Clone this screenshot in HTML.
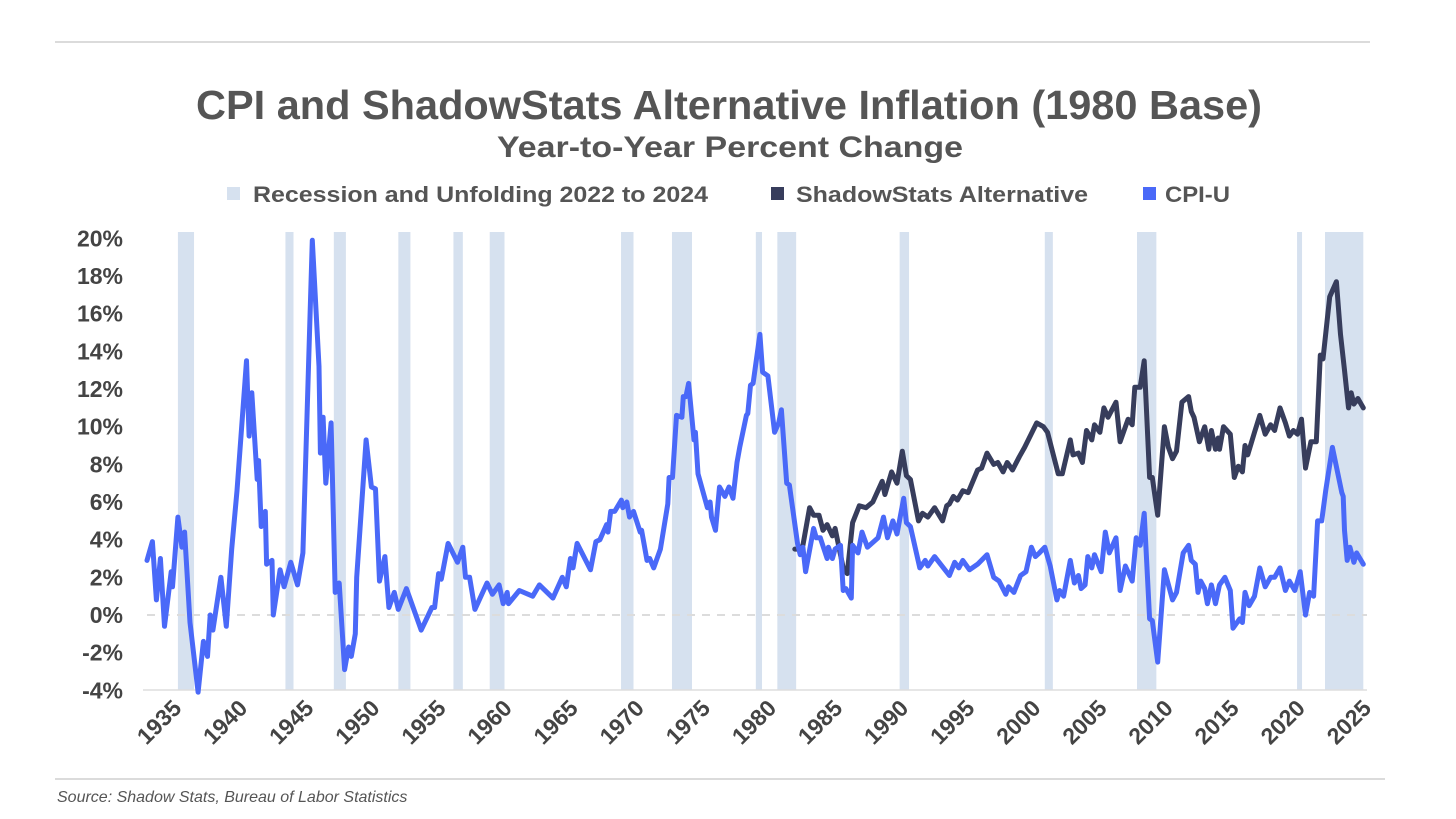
<!DOCTYPE html>
<html><head><meta charset="utf-8"><style>
body{margin:0;background:#fff;width:1456px;height:819px;overflow:hidden;font-family:"Liberation Sans",sans-serif;}
svg{display:block}
text{font-family:"Liberation Sans",sans-serif;font-weight:bold;}
</style></head><body>
<svg id="chart" width="1456" height="819" viewBox="0 0 1456 819">
<line x1="55" y1="42" x2="1370" y2="42" stroke="#cfcfcf" stroke-width="1.5"/>
<text x="196" y="119" textLength="1066" lengthAdjust="spacingAndGlyphs" font-size="41" fill="#555">CPI and ShadowStats Alternative Inflation (1980 Base)</text>
<text x="497" y="157" textLength="466" lengthAdjust="spacingAndGlyphs" font-size="30" fill="#555">Year-to-Year Percent Change</text>
<g>
<g><rect x="227" y="187" width="13" height="13" fill="#d6e1ef"/><text x="253" y="202" textLength="455" lengthAdjust="spacingAndGlyphs" font-size="22" fill="#555">Recession and Unfolding 2022 to 2024</text></g>
<g><rect x="771" y="187" width="13" height="13" fill="#373d5c"/><text x="796" y="202" textLength="292" lengthAdjust="spacingAndGlyphs" font-size="22" fill="#555">ShadowStats Alternative</text></g>
<g><rect x="1143" y="187" width="13" height="13" fill="#4a69f8"/><text x="1165" y="202" textLength="65" lengthAdjust="spacingAndGlyphs" font-size="22" fill="#555">CPI-U</text></g>
</g>
<g id="bands"></g>
<g id="yaxis"></g>
<g id="xaxis"></g>
<g id="series"></g>
<line x1="55" y1="779" x2="1385" y2="779" stroke="#cfcfcf" stroke-width="1.5"/>
<text x="57" y="802" font-size="16" font-style="italic" fill="#555" style="font-weight:normal">Source: Shadow Stats, Bureau of Labor Statistics</text>
</svg>
<script>
const yTicks=[20,18,16,14,12,10,8,6,4,2,0,-2,-4];
const xTickYears=[1935,1940,1945,1950,1955,1960,1965,1970,1975,1980,1985,1990,1995,2000,2005,2010,2015,2020,2025];
const recessionStarts=[1937.3,1945.3,1948.9,1953.7,1957.8,1960.5,1970.27,1974.06,1980.3,1981.9,1991.0,2001.8,2008.66,2020.57,2022.65];
const recessionEnds=[1938.5,1945.9,1949.8,1954.6,1958.5,1961.6,1971.2,1975.55,1980.76,1983.3,1991.7,2002.4,2010.1,2020.94,2025.5];
const cpiYears=[1935.0,1935.4,1935.7,1936.0,1936.3,1936.8,1936.9,1937.3,1937.6,1937.8,1938.2,1938.8,1939.2,1939.5,1939.7,1939.9,1940.5,1940.9,1941.3,1941.7,1942.4,1942.6,1942.8,1943.2,1943.3,1943.5,1943.8,1943.9,1944.3,1944.4,1944.9,1945.2,1945.7,1946.2,1946.6,1947.3,1947.8,1947.9,1948.1,1948.3,1948.7,1949.0,1949.3,1949.7,1950.0,1950.2,1950.5,1950.6,1951.3,1951.7,1952.0,1952.3,1952.7,1953.0,1953.4,1953.7,1954.3,1955.4,1956.2,1956.4,1956.7,1956.9,1957.4,1958.1,1958.5,1958.7,1959.0,1959.4,1960.3,1960.7,1961.2,1961.5,1961.8,1961.9,1962.7,1963.7,1964.2,1965.2,1965.9,1966.2,1966.5,1966.7,1967.0,1968.0,1968.4,1968.7,1969.2,1969.3,1969.5,1969.8,1970.3,1970.4,1970.7,1970.9,1971.2,1971.7,1971.8,1972.2,1972.4,1972.7,1973.2,1973.75,1973.85,1974.1,1974.4,1974.8,1974.9,1975.1,1975.3,1975.7,1975.8,1976.0,1976.7,1976.9,1977.0,1977.3,1977.6,1978.0,1978.3,1978.6,1978.9,1979.1,1979.6,1979.7,1979.9,1980.1,1980.6,1980.8,1981.2,1981.7,1982.0,1982.2,1982.6,1982.8,1983.4,1983.6,1983.8,1984.0,1984.6,1984.8,1985.1,1985.6,1985.7,1986.0,1986.2,1986.6,1986.8,1987.0,1987.4,1987.5,1987.9,1988.2,1988.6,1989.4,1989.8,1990.1,1990.5,1990.8,1991.3,1991.5,1991.8,1992.5,1992.9,1993.1,1993.6,1994.7,1995.1,1995.4,1995.7,1996.2,1996.8,1997.5,1998.0,1998.4,1998.9,1999.1,1999.5,2000.0,2000.4,2000.8,2001.1,2001.4,2001.8,2002.2,2002.7,2002.9,2003.2,2003.7,2004.0,2004.3,2004.5,2004.8,2005.0,2005.3,2005.5,2006.0,2006.3,2006.6,2007.1,2007.4,2007.8,2008.3,2008.6,2008.9,2009.2,2009.6,2009.8,2010.2,2010.7,2011.3,2011.6,2012.1,2012.5,2012.7,2013.0,2013.2,2013.4,2013.7,2013.9,2014.2,2014.5,2014.8,2015.2,2015.6,2015.8,2016.3,2016.5,2016.7,2017.0,2017.4,2017.8,2018.2,2018.6,2018.9,2019.3,2019.7,2020.0,2020.4,2020.8,2021.2,2021.5,2021.8,2022.1,2022.4,2022.7,2023.2,2023.9,2024.0,2024.1,2024.3,2024.5,2024.8,2025.0,2025.5];
const cpiValues=[2.9,3.9,0.8,3.0,-0.6,2.3,1.5,5.2,3.6,4.4,-0.4,-4.1,-1.4,-2.2,0.0,-0.8,2.0,-0.6,3.5,6.6,13.5,9.5,11.8,7.2,8.2,4.7,5.5,2.7,2.9,0.0,2.4,1.5,2.8,1.6,3.3,19.9,13.2,8.6,10.5,7.0,10.2,1.2,1.7,-2.9,-1.7,-2.2,-1.0,2.0,9.3,6.8,6.7,1.8,3.1,0.4,1.2,0.3,1.4,-0.8,0.4,0.4,2.2,1.9,3.8,2.8,3.6,2.0,2.0,0.3,1.7,1.1,1.6,0.6,1.2,0.6,1.3,1.0,1.6,0.9,2.0,1.5,3.0,2.5,3.8,2.4,3.9,4.0,4.8,4.4,5.5,5.5,6.1,5.7,6.0,5.2,5.5,4.4,4.5,2.9,3.0,2.5,3.5,5.9,7.3,7.3,10.6,10.5,11.6,11.6,12.3,9.3,9.7,7.5,5.7,6.0,5.2,4.5,6.8,6.3,6.8,6.2,8.1,8.9,10.6,10.7,12.2,12.3,14.9,12.9,12.7,9.7,10.2,10.9,7.0,6.9,3.8,3.2,3.6,2.3,4.6,4.1,4.1,3.0,3.6,3.0,3.5,3.7,1.3,1.4,0.9,3.7,3.3,4.4,3.6,4.1,5.2,4.1,5.0,4.3,6.2,4.9,4.7,2.5,2.9,2.6,3.1,2.1,2.8,2.5,2.9,2.4,2.7,3.2,2.0,1.8,1.1,1.5,1.2,2.1,2.3,3.6,3.1,3.3,3.6,2.6,0.8,1.3,1.0,2.9,1.7,2.1,1.4,1.6,3.1,2.5,3.2,2.3,4.4,3.3,4.1,1.3,2.6,1.8,4.1,3.7,5.4,-0.2,-0.3,-2.5,2.4,0.8,1.2,3.3,3.7,2.9,2.7,1.2,1.8,1.4,0.6,1.6,0.6,1.6,2.0,1.3,-0.7,-0.2,-0.4,1.2,0.5,1.0,2.5,1.5,2.0,2.0,2.5,1.3,1.8,1.3,2.3,0.0,1.2,1.0,5.0,5.0,6.6,8.9,6.5,6.3,4.5,2.9,3.6,2.8,3.3,2.7];
const ssYears=[1983.2,1983.6,1983.8,1984.3,1984.6,1985.0,1985.3,1985.6,1986.0,1986.2,1986.4,1986.8,1987.1,1987.5,1988.0,1988.5,1989.0,1989.7,1989.9,1990.4,1990.8,1991.2,1991.5,1991.8,1992.4,1992.7,1993.1,1993.6,1994.2,1994.5,1994.7,1995.0,1995.3,1995.7,1996.1,1996.8,1997.1,1997.5,1998.0,1998.3,1998.7,1999.0,1999.4,1999.9,2000.3,2001.2,2001.7,2002.0,2002.8,2003.1,2003.7,2003.9,2004.3,2004.6,2004.9,2005.3,2005.5,2005.9,2006.2,2006.5,2007.1,2007.4,2007.8,2008.0,2008.3,2008.5,2008.9,2009.2,2009.6,2009.8,2010.2,2010.7,2011.0,2011.3,2011.6,2012.0,2012.5,2012.7,2012.9,2013.3,2013.7,2014.0,2014.2,2014.5,2014.7,2014.8,2015.1,2015.6,2015.9,2016.2,2016.5,2016.7,2016.9,2017.4,2017.8,2018.2,2018.6,2018.9,2019.3,2019.7,2020.0,2020.3,2020.6,2020.9,2021.2,2021.6,2022.0,2022.3,2022.5,2023.0,2023.5,2023.8,2024.1,2024.4,2024.6,2024.8,2025.1,2025.5];
const ssValues=[3.5,3.5,3.7,5.7,5.3,5.3,4.5,4.8,4.2,4.6,3.9,2.5,2.2,4.9,5.8,5.7,6.0,7.1,6.4,7.6,7.0,8.7,7.4,7.2,5.0,5.4,5.2,5.7,5.0,5.8,5.9,6.3,6.1,6.6,6.5,7.7,7.8,8.6,8.0,8.1,7.6,8.1,7.7,8.4,8.9,10.2,10.0,9.7,7.5,7.5,9.3,8.5,8.6,8.1,9.8,9.3,10.1,9.7,11.0,10.5,11.3,9.2,10.0,10.4,10.1,12.1,12.1,13.5,7.3,7.3,5.3,10.0,8.9,8.3,8.7,11.3,11.6,10.8,10.5,9.2,10.0,8.8,9.8,8.8,9.4,8.8,10.0,9.6,7.3,7.9,7.6,9.0,8.5,9.7,10.6,9.6,10.1,9.8,11.0,10.2,9.5,9.8,9.6,10.4,7.8,9.2,9.2,13.8,13.6,16.9,17.7,14.9,13.0,11.0,11.8,11.2,11.5,11.0];

const NS='http://www.w3.org/2000/svg';
const X0=147,PX=13.44,Y0=615,PY=18.83;
function xs(yr){return X0+(yr-1935)*PX;}
function ys(v){return Y0-v*PY;}
function mk(tag,attrs,parent){const e=document.createElementNS(NS,tag);for(const k in attrs)e.setAttribute(k,attrs[k]);parent.appendChild(e);return e;}

const bands=document.getElementById('bands');
recessionStarts.forEach((s,i)=>{
  const r=mk('rect',{x:xs(s),y:232,width:xs(recessionEnds[i])-xs(s),height:458,fill:'#d6e1ef'},bands);
  
  
});
const ya=document.getElementById('yaxis');
yTicks.forEach(v=>{
  const t=mk('text',{x:123,y:ys(v)+8,'text-anchor':'end','font-size':'23',fill:'#444'},ya);
  t.textContent=v+'%';
  
  
});
const zl=mk('line',{x1:147,x2:1367,y1:ys(0),y2:ys(0),stroke:'#dcdcdc','stroke-width':2,'stroke-dasharray':'8 7'},ya);


const xa=document.getElementById('xaxis');
const al=mk('line',{x1:143,x2:1367,y1:690,y2:690,stroke:'#ddd','stroke-width':1.5},xa);


xTickYears.forEach((yr,i)=>{
  const cx=159+(yr-1935)*13.22, cy=722;
  const t=mk('text',{x:cx,y:cy+8,'text-anchor':'middle','font-size':'23',fill:'#444',transform:'rotate(-45 '+cx+' '+cy+')'},xa);
  t.textContent=yr;
  
  
});
const se=document.getElementById('series');
function line(years,vals,color,name){
  const d=years.map((y,i)=>(i?'L':'M')+xs(y).toFixed(1)+','+ys(vals[i]).toFixed(1)).join('');
  const p=mk('path',{d:d,fill:'none',stroke:color,'stroke-width':5,'stroke-linejoin':'round','stroke-linecap':'round'},se);
  
  
}
line(ssYears,ssValues,'#373d5c','shadowstats-line');
line(cpiYears,cpiValues,'#4a69f8','cpi-u-line');
</script>
</body></html>
